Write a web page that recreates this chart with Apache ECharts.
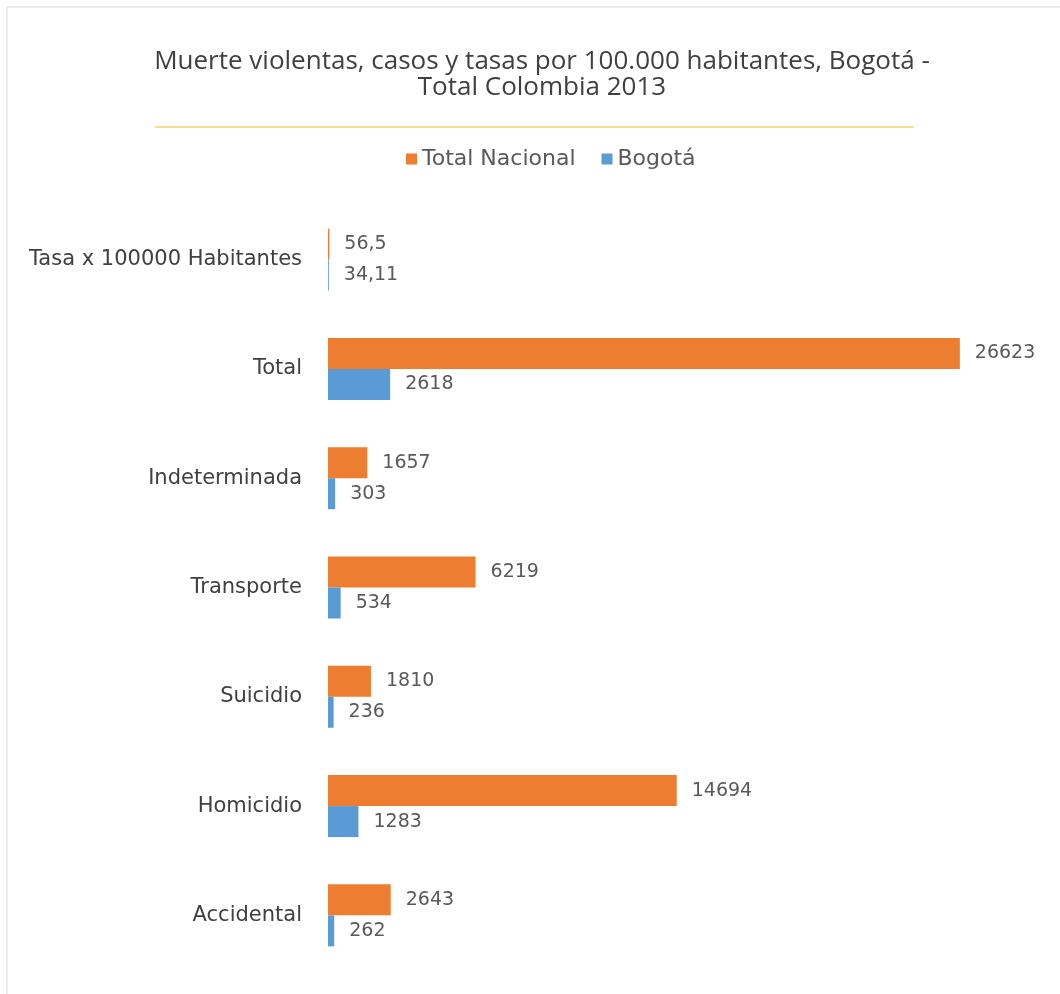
<!DOCTYPE html>
<html>
<head>
<meta charset="utf-8">
<script src="https://cdn.jsdelivr.net/npm/echarts@6/dist/echarts.min.js"></script>
<style>
  html, body { margin: 0; padding: 0; background: #fff; }
  #chart { width: 1060px; height: 994px; }
</style>
</head>
<body>
<div id="chart"></div>
<script>
// categorias y valores
var categorias = ['Tasa x 100000 Habitantes', 'Total', 'Indeterminada', 'Transporte', 'Suicidio', 'Homicidio', 'Accidental'];
var totalNacional = [56.5, 26623, 1657, 6219, 1810, 14694, 2643];
var bogota = [34.11, 2618, 303, 534, 236, 1283, 262];

var chart = echarts.init(document.getElementById('chart'));

function etiqueta(p) {
    return String(p.value).replace('.', ',');
}

var option = {
    backgroundColor: '#fff',
    title: {
        text: 'Muerte violentas, casos y tasas por 100.000 habitantes, Bogotá -\nTotal Colombia 2013',
        left: 537,
        textAlign: 'center',
        top: 44,
        textStyle: {
            fontFamily: 'Open Sans',
            fontSize: 26,
            fontWeight: 'normal',
            color: '#404040',
            lineHeight: 26
        }
    },
    legend: {
        top: 143,
        left: 401,
        itemWidth: 11,
        itemHeight: 11,
        itemGap: 26,
        icon: 'rect',
        textStyle: { fontFamily: 'DejaVu Sans', fontSize: 22, color: '#595959' },
        data: ['Total Nacional', 'Bogotá']
    },
    graphic: [
        {
            type: 'rect',
            shape: { x: 7, y: 7, width: 1200, height: 1200 },
            style: { fill: 'none', stroke: '#d9d9d9', lineWidth: 1 },
            silent: true
        },
        {
            type: 'line',
            shape: { x1: 155, y1: 127, x2: 914, y2: 127 },
            style: { stroke: '#f2d46e', lineWidth: 1.5 },
            silent: true
        }
    ],
    grid: { left: 328, right: 20, top: 205, bottom: 24, containLabel: false },
    xAxis: {
        type: 'value',
        min: 0,
        max: 30000,
        show: false
    },
    yAxis: {
        type: 'category',
        inverse: true,
        data: categorias,
        axisLine: { show: false },
        axisTick: { show: false },
        axisLabel: {
            margin: 26,
            fontFamily: 'DejaVu Sans',
            fontSize: 21,
            color: '#404040'
        }
    },
    series: [
        {
            name: 'Total Nacional',
            type: 'bar',
            data: totalNacional,
            barWidth: 31,
            barGap: '0%',
            itemStyle: { color: '#ED7D31' },
            label: {
                show: true,
                position: 'right',
                distance: 15,
                formatter: etiqueta,
                fontFamily: 'DejaVu Sans',
                fontSize: 19,
                color: '#595959'
            }
        },
        {
            name: 'Bogotá',
            type: 'bar',
            data: bogota,
            barWidth: 31,
            barGap: '0%',
            itemStyle: { color: '#5B9BD5' },
            label: {
                show: true,
                position: 'right',
                distance: 15,
                formatter: etiqueta,
                fontFamily: 'DejaVu Sans',
                fontSize: 19,
                color: '#595959'
            }
        }
    ]
};
chart.setOption(option);
</script>
</body>
</html>
